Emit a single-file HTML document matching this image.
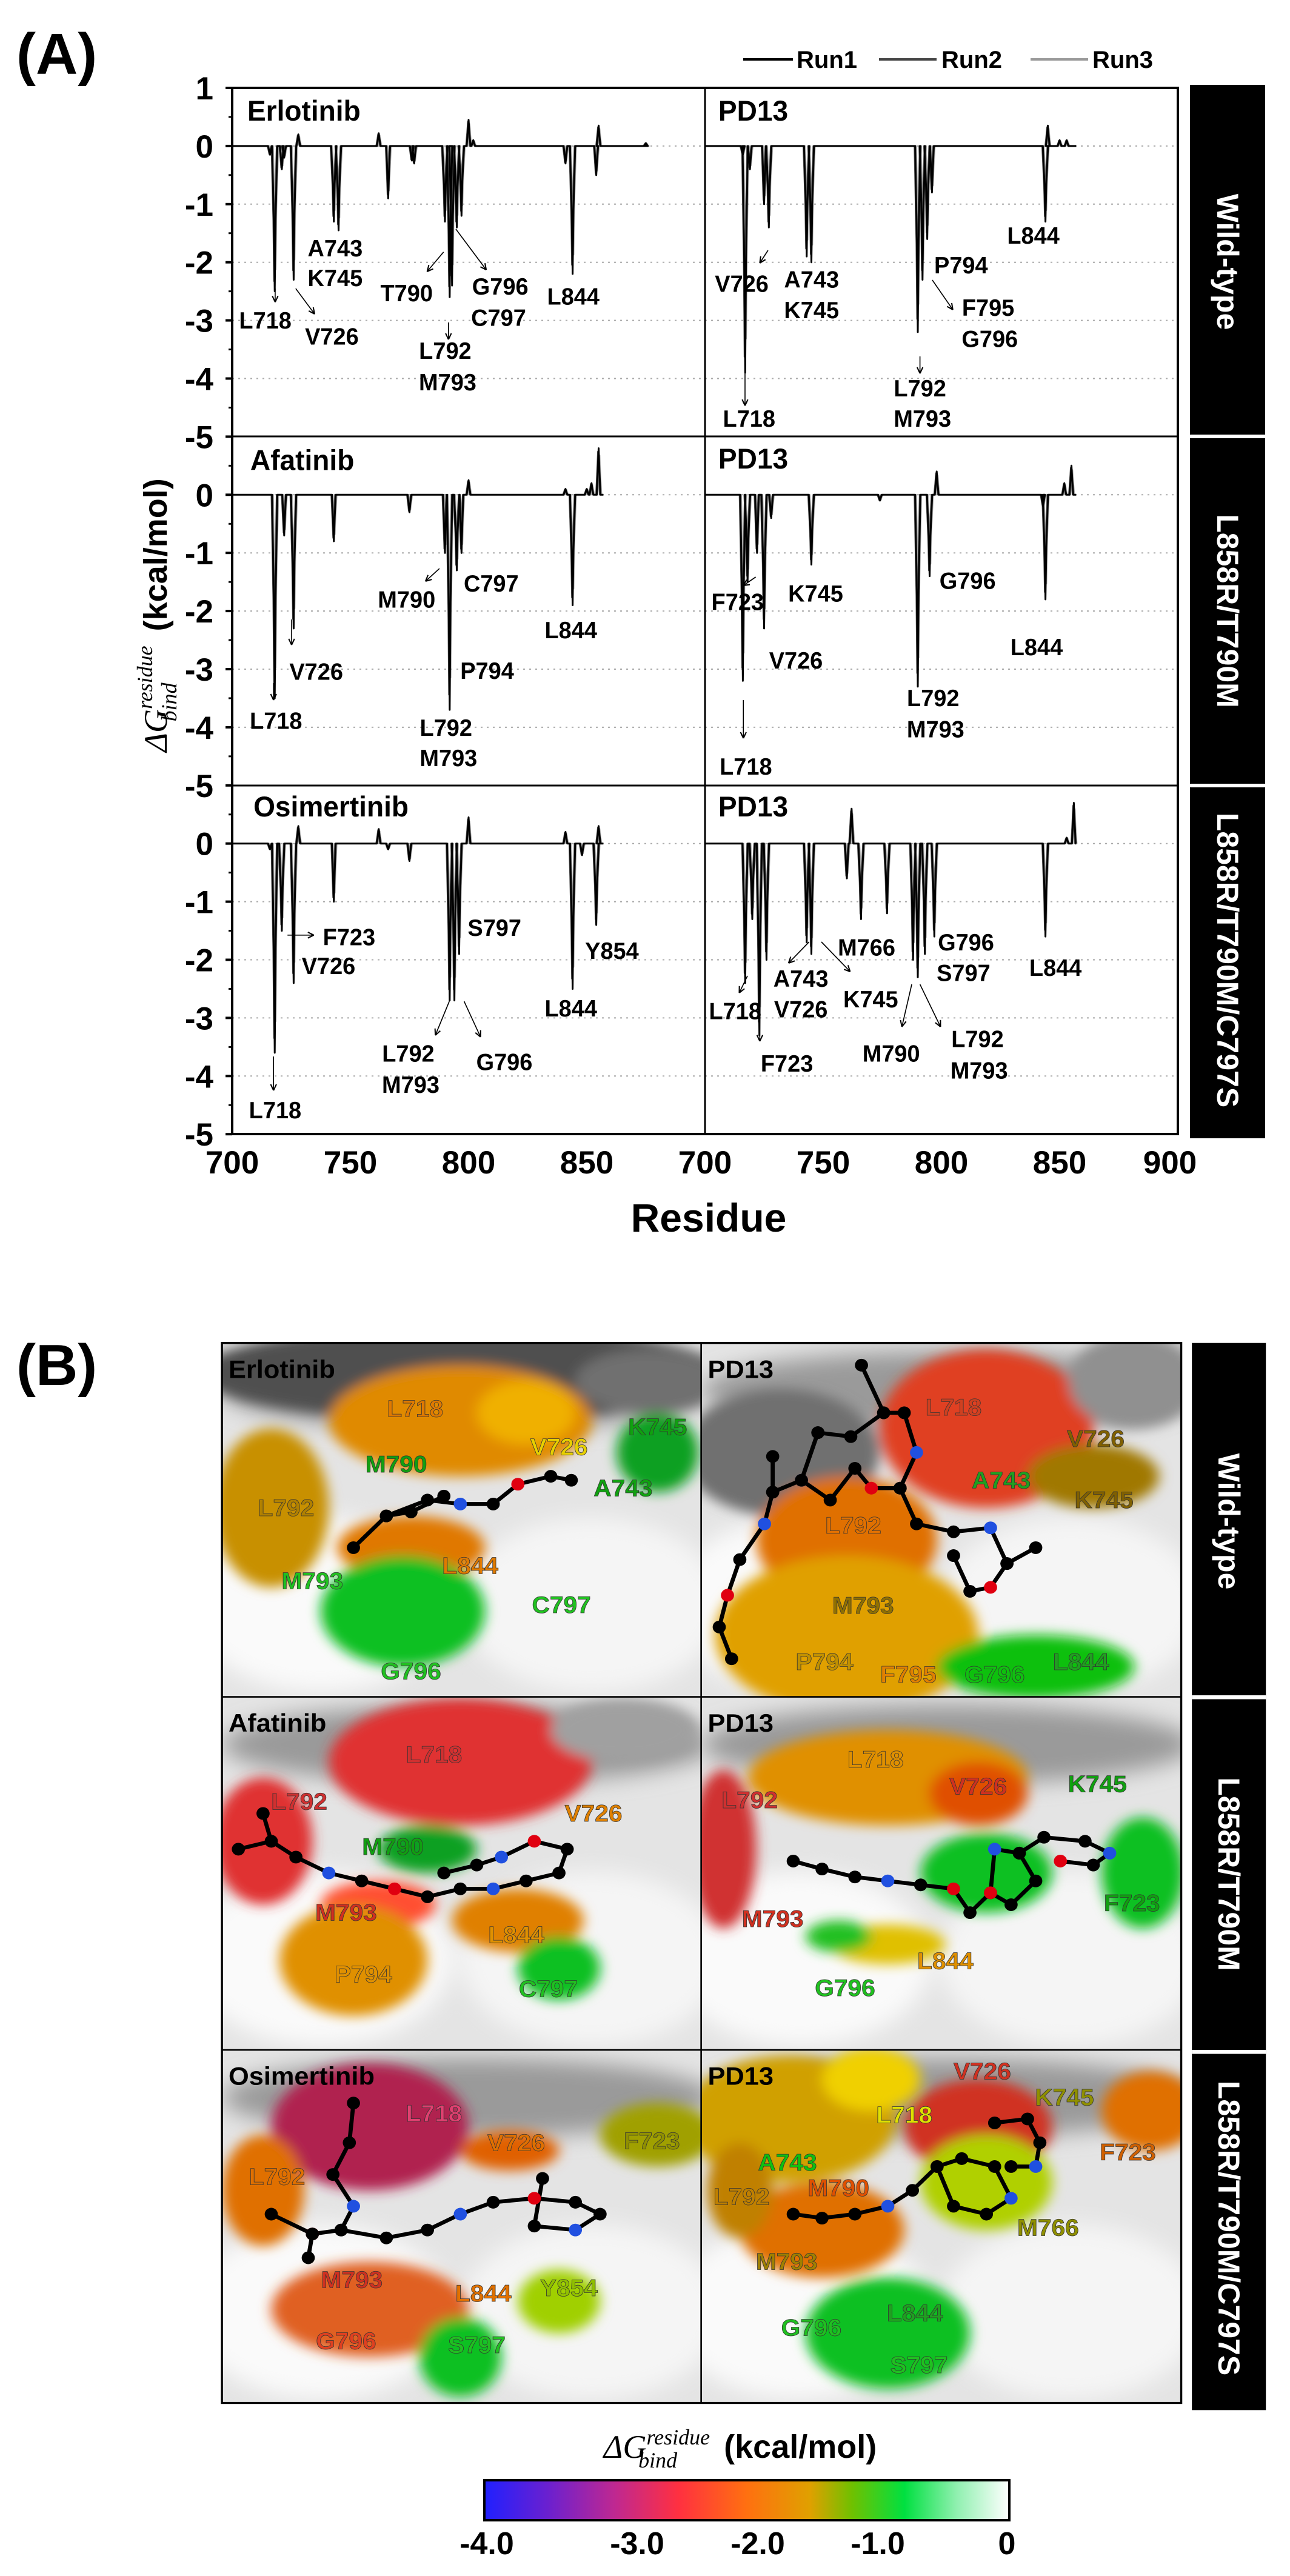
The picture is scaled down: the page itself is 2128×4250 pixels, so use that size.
<!DOCTYPE html>
<html><head><meta charset="utf-8"><style>
html,body{margin:0;padding:0;background:#fff;}
svg{display:block;}
text{font-family:"Liberation Sans",sans-serif;font-weight:bold;}
</style></head><body>
<svg id="s" xmlns="http://www.w3.org/2000/svg" width="2128" height="4250" viewBox="0 0 2128 4250">
<defs>
<filter id="bl" x="-50%" y="-50%" width="200%" height="200%"><feGaussianBlur stdDeviation="14"/></filter>
<filter id="bl2" x="-50%" y="-50%" width="200%" height="200%"><feGaussianBlur stdDeviation="8"/></filter>
<clipPath id="c1"><rect x="270" y="12" width="583" height="446"/></clipPath>
<clipPath id="c2"><rect x="853" y="12" width="584" height="446"/></clipPath>
<clipPath id="c3"><rect x="270" y="458" width="583" height="445"/></clipPath>
<clipPath id="c4"><rect x="853" y="458" width="584" height="445"/></clipPath>
<clipPath id="c5"><rect x="270" y="903" width="583" height="445"/></clipPath>
<clipPath id="c6"><rect x="853" y="903" width="584" height="445"/></clipPath>
<linearGradient id="cb" x1="0" x2="1" y1="0" y2="0">
<stop offset="0" stop-color="#2020ff"/><stop offset="0.12" stop-color="#6a20d0"/><stop offset="0.25" stop-color="#c02890"/><stop offset="0.37" stop-color="#ff3040"/><stop offset="0.5" stop-color="#ff7010"/><stop offset="0.62" stop-color="#e0a000"/><stop offset="0.7" stop-color="#70c000"/><stop offset="0.8" stop-color="#00e040"/><stop offset="0.9" stop-color="#90f0b0"/><stop offset="1" stop-color="#ffffff"/></linearGradient>
</defs>

<!-- ===== (A) ===== -->
<text x="27" y="122" font-size="96">(A)</text>
<g font-size="40">
<line x1="1226" y1="98" x2="1308" y2="98" stroke="#000" stroke-width="4"/><text x="1314" y="112">Run1</text>
<line x1="1450" y1="98" x2="1545" y2="98" stroke="#444" stroke-width="4"/><text x="1553" y="112">Run2</text>
<line x1="1700" y1="98" x2="1795" y2="98" stroke="#999" stroke-width="4"/><text x="1802" y="112">Run3</text>
</g>
<g id="grid"></g>
<g id="curves"></g>
<rect x="383" y="145" width="1560" height="1726" fill="none" stroke="#000" stroke-width="4"/>
<line x1="1163" y1="145" x2="1163" y2="1871" stroke="#000" stroke-width="3"/>
<line x1="383" y1="720" x2="1943" y2="720" stroke="#000" stroke-width="3"/>
<line x1="383" y1="1296" x2="1943" y2="1296" stroke="#000" stroke-width="3"/>
<g id="ticks" font-size="53" text-anchor="end"></g>
<g font-size="53" text-anchor="middle">
<text x="383" y="1936">700</text><text x="578" y="1936">750</text><text x="773" y="1936">800</text><text x="968" y="1936">850</text>
<text x="1163" y="1936">700</text><text x="1358" y="1936">750</text><text x="1553" y="1936">800</text><text x="1748" y="1936">850</text><text x="1930" y="1936">900</text>
</g>
<text x="1169" y="2032" font-size="66" text-anchor="middle">Residue</text>
<g transform="translate(275,1015) rotate(-90)">
<text text-anchor="middle" font-size="54"><tspan font-family="Liberation Serif,serif" font-style="italic" font-weight="normal">ΔG</tspan><tspan font-family="Liberation Serif,serif" font-style="italic" font-weight="normal" font-size="36" dy="-24">residue</tspan><tspan font-family="Liberation Serif,serif" font-style="italic" font-weight="normal" font-size="36" dx="-125" dy="40">bind</tspan><tspan dx="70" dy="-16"> (kcal/mol)</tspan></text>
</g>
<!-- row label bar A -->
<rect x="1963" y="140" width="124" height="1738" fill="#000"/>
<rect x="1963" y="717" width="124" height="6" fill="#fff"/>
<rect x="1963" y="1293" width="124" height="6" fill="#fff"/>
<g fill="#fff" font-size="50" text-anchor="middle">
<text transform="translate(2008,432) rotate(90)">Wild-type</text>
<text transform="translate(2008,1008) rotate(90)">L858R/T790M</text>
<text transform="translate(2008,1584) rotate(90)">L858R/T790M/C797S</text>
</g>

<!-- annotations in zoom1 coords -->
<g transform="scale(1.355,1.4)" font-size="28" text-anchor="middle">
<text x="370" y="142" font-size="34">Erlotinib</text>
<text x="917" y="142" font-size="34">PD13</text>
<text x="368" y="554" font-size="34">Afatinib</text>
<text x="917" y="552" font-size="34">PD13</text>
<text x="403" y="962" font-size="34">Osimertinib</text>
<text x="917" y="962" font-size="34">PD13</text>
<g id="ann"></g>
</g>

<!-- ===== (B) ===== -->
<text x="27" y="2285" font-size="96">(B)</text>
<g transform="translate(0,2200) scale(1.356,1.309)">
<g id="bp"></g>
<rect x="270" y="12" width="1167" height="1336" fill="none" stroke="#000" stroke-width="2.5"/>
<line x1="853" y1="12" x2="853" y2="1348" stroke="#000" stroke-width="2"/>
<line x1="270" y1="458" x2="1437" y2="458" stroke="#000" stroke-width="2"/>
<line x1="270" y1="903" x2="1437" y2="903" stroke="#000" stroke-width="2"/>
<rect x="1450" y="12" width="90" height="1345" fill="#000"/>
<rect x="1450" y="456" width="90" height="5" fill="#fff"/>
<rect x="1450" y="903" width="90" height="5" fill="#fff"/>
</g>
<g fill="#fff" font-size="50" text-anchor="middle">
<text transform="translate(2010,2510) rotate(90)">Wild-type</text>
<text transform="translate(2010,3092) rotate(90)">L858R/T790M</text>
<text transform="translate(2010,3676) rotate(90)">L858R/T790M/C797S</text>
</g>
<!-- colorbar -->
<text x="1221" y="4055" font-size="54" text-anchor="middle"><tspan font-family="Liberation Serif,serif" font-style="italic" font-weight="normal">ΔG</tspan><tspan font-family="Liberation Serif,serif" font-style="italic" font-weight="normal" font-size="36" dy="-22">residue</tspan><tspan font-family="Liberation Serif,serif" font-style="italic" font-weight="normal" font-size="36" dx="-118" dy="38">bind</tspan><tspan dx="62" dy="-16"> (kcal/mol)</tspan></text>
<rect x="799" y="4092" width="866" height="66" fill="url(#cb)" stroke="#000" stroke-width="4"/>
<g font-size="52" text-anchor="middle">
<text x="803" y="4214">-4.0</text><text x="1051" y="4214">-3.0</text><text x="1250" y="4214">-2.0</text><text x="1448" y="4214">-1.0</text><text x="1661" y="4214">0</text>
</g>
</svg>
<script>
var NS="http://www.w3.org/2000/svg";
function el(t,a,p){var e=document.createElementNS(NS,t);for(var k in a)e.setAttribute(k,a[k]);p.appendChild(e);return e;}
var U=95.9, rowTop=[145,720.4,1295.8], X0=[383,1163], PX=3.9;
var grid=document.getElementById('grid'), tk=document.getElementById('ticks');
for(var r=0;r<3;r++){var y0=rowTop[r]+U;
 for(var v=-5;v<=0;v++){var y=y0-v*U; el('line',{x1:383,x2:1943,y1:y,y2:y,stroke:'#aaa','stroke-width':2,'stroke-dasharray':'3 7'},grid);}
 for(var v=(r==0?1:0);v>=-5;v--){var y=y0-v*U;var t=el('text',{x:352,y:y+19},tk);t.textContent=String(v).replace('-','-');
  el('line',{x1:372,x2:383,y1:y,y2:y,stroke:'#000','stroke-width':4},grid);}
 for(var v=0.5;v>-5;v-=1){var y=y0-v*U;el('line',{x1:377,x2:383,y1:y,y2:y,stroke:'#000','stroke-width':3},grid);}
}
var P=[
[[716,-0.15],[718,-2.5],[721,-0.4],[722,-0.2],[726,-2.3],[728,0.2],[743,-1.3],[745,-1.45],[762,0.22],[766,-0.9],[776,-0.25],[777,-0.3],[790,-1.3],[792,-2.6],[793,-2.4],[795,-1.4],[797,-1.2],[800,0.45],[802,0.1],[841,-0.3],[844,-2.2],[854,-0.5],[855,0.35],[875,0.05]],
[[716,-0.15],[717,-3.9],[719,-0.4],[725,-1.0],[727,-1.4],[743,-1.9],[745,-2.0],[790,-3.2],[792,-2.3],[794,-1.6],[796,-0.8],[844,-1.3],[845,0.35],[850,0.1],[853,0.1]],
[[718,-3.5],[722,-0.7],[726,-2.3],[743,-0.8],[775,-0.3],[790,-1.0],[792,-3.7],[795,-1.3],[797,-1.0],[800,0.25],[841,0.1],[844,-1.9],[850,0.1],[852,0.2],[855,0.8]],
[[716,-3.2],[718,-1.5],[722,-1.0],[725,-2.3],[728,-0.4],[745,-1.2],[774,-0.1],[790,-3.3],[795,-1.4],[798,0.4],[843,-0.2],[844,-1.8],[852,0.2],[855,0.5]],
[[716,-0.1],[718,-3.6],[721,-1.5],[726,-2.4],[728,0.3],[743,-1.0],[762,0.25],[766,-0.1],[775,-0.3],[792,-2.7],[794,-2.7],[796,-1.9],[800,0.45],[841,0.2],[844,-2.5],[848,-0.2],[854,-1.4],[855,0.3]],
[[717,-2.4],[720,-1.3],[723,-3.3],[726,-2.0],[743,-1.7],[745,-1.9],[760,-0.6],[762,0.6],[766,-1.3],[777,-1.2],[788,-2.0],[790,-2.3],[793,-1.9],[797,-1.6],[844,-1.6],[853,0.1],[856,0.7]]];
var cg=document.getElementById('curves');
var runs=[['#aaa',2.5,0.85,0.4],['#555',2.5,0.93,-0.3],['#000',3,1,0]];
for(var i=0;i<6;i++){var x0=X0[i%2], y0=rowTop[Math.floor(i/2)]+U;
 runs.forEach(function(R){var d='M'+x0+','+y0, sp=P[i].slice().sort(function(a,b){return a[0]-b[0]});
  sp.forEach(function(s){var r=s[0]+R[3],v=s[1]*R[2];var w=v<-1?1.1:0.8;
   function pt(rr,vv){return ' L'+(x0+(rr-700)*PX).toFixed(1)+','+(y0-vv*U).toFixed(1);}
   d+=pt(r-w,0)+pt(r-0.35,v*0.55)+pt(r,v)+pt(r+0.35,v*0.5)+pt(r+w,0);});
  d+=' L'+(x0+(857-700)*PX)+','+y0;
  el('path',{d:d,fill:'none',stroke:R[0],'stroke-width':R[1],'stroke-linejoin':'round'},cg);});
}
// annotations
var A=[['A743',408,302],['K745',408,337],['T790',495,355],['G796',609,347],['C797',607,384],['L844',698,359],['L718',323,387],['V726',404,406],['L792',542,423],['M793',545,460],
['V726',903,344],['A743',988,339],['K745',988,375],['P794',1170,322],['L844',1258,287],['F795',1203,372],['G796',1205,409],['L718',912,503],['L792',1120,467],['M793',1123,503],
['M790',495,716],['C797',598,697],['L844',695,752],['V726',385,801],['P794',593,800],['L718',336,859],['L792',543,867],['M793',546,903],
['F723',898,719],['K745',993,709],['G796',1178,694],['V726',969,788],['L844',1262,772],['L792',1136,832],['M793',1139,869],['L718',908,913],
['F723',425,1114],['V726',400,1148],['S797',602,1103],['Y854',745,1130],['L844',695,1198],['L792',497,1251],['M793',500,1288],['G796',614,1261],['L718',335,1318],
['M766',1055,1126],['G796',1176,1120],['S797',1173,1156],['L844',1285,1150],['A743',975,1163],['V726',975,1199],['K745',1060,1187],['L718',895,1201],['F723',958,1263],['M790',1085,1251],['L792',1190,1234],['M793',1192,1271]];
var ag=document.getElementById('ann');
A.forEach(function(a){el('text',{x:a[1],y:a[2]},ag).textContent=a[0];});
var AR=[[335,340,335,356],[360,340,383,370],[540,297,520,320],[555,270,592,318],[546,380,546,400],
[935,295,925,310],[907,430,907,478],[1135,330,1160,365],[1120,420,1120,440],
[535,670,518,685],[355,730,355,760],[333,805,333,825],[920,680,905,690],[905,825,905,870],
[350,1102,382,1102],[333,1245,333,1285],[547,1180,530,1220],[565,1180,585,1222],
[985,1110,960,1135],[1000,1110,1035,1145],[910,1150,900,1170],[925,1150,925,1227],[1110,1160,1098,1210],[1120,1160,1145,1210]];
AR.forEach(function(a){el('line',{x1:a[0],y1:a[1],x2:a[2],y2:a[3],stroke:'#000','stroke-width':1.2},ag);
 var ang=Math.atan2(a[3]-a[1],a[2]-a[0]),L=8,s=0.45;
 el('path',{d:'M'+a[2]+','+a[3]+' L'+(a[2]-L*Math.cos(ang-s))+','+(a[3]-L*Math.sin(ang-s))+' M'+a[2]+','+a[3]+' L'+(a[2]-L*Math.cos(ang+s))+','+(a[3]-L*Math.sin(ang+s)),stroke:'#000','stroke-width':1.5,fill:'none'},ag);});
// panel B
var bp=document.getElementById('bp');
var panels=[
{c:'c1',x:270,y:12,title:'Erlotinib',blobs:[['#505050',560,50,320,60],['#e08a00',560,110,160,70],['#f0b000',640,100,60,40],['#c89000',330,220,70,100],['#e07800',500,270,90,40],['#10c020',490,350,100,70],['#10a020',800,150,50,50],['#707070',790,60,90,40]],
 labels:[['L718',505,105,'#e07a00'],['V726',680,153,'#e8d000'],['K745',800,128,'#10a010'],['M790',482,175,'#10a010'],['A743',758,205,'#10a010'],['L792',348,230,'#b08000'],['L844',572,303,'#e07a00'],['M793',380,322,'#20c020'],['C797',683,352,'#20c020'],['G796',500,436,'#20c020']],
 mol:[[[430,270],[470,230],[520,210],[560,215],[600,215],[630,190],[670,180],[695,185]],[[470,230],[500,225],[540,205]]]},
{c:'c2',x:853,y:12,title:'PD13',blobs:[['#707070',950,150,120,80],['#e04020',1200,120,130,100],['#e07000',1030,260,110,80],['#e0a000',1030,380,160,100],['#10c010',1260,420,120,40],['#a07800',1330,180,80,40],['#909090',1380,60,80,60]],
 labels:[['L718',1160,103,'#d04020'],['V726',1333,143,'#806000'],['A743',1218,195,'#20a020'],['K745',1343,220,'#806000'],['L792',1038,252,'#e07000'],['M793',1050,353,'#907000'],['P794',1003,424,'#c09000'],['F795',1105,440,'#e08000'],['G796',1210,440,'#10c010'],['L844',1315,424,'#20a020']],
 mol:[[[1048,40],[1075,100],[1100,100],[1115,150],[1095,195],[1060,195],[1040,170],[1010,210],[975,185],[995,125],[1035,130],[1075,100]],[[995,125],[975,185],[940,200],[930,240],[900,285],[885,330],[875,370],[890,410]],[[1095,195],[1115,240],[1160,250],[1205,245],[1225,290],[1205,320],[1180,325],[1160,280]],[[1225,290],[1260,270]],[[940,155],[940,200]]]},
{c:'c3',x:270,y:458,title:'Afatinib',blobs:[['#e03030',560,540,160,80],['#e03030',320,640,60,80],['#ff5030',460,720,70,30],['#e09000',430,790,90,70],['#e08000',630,740,80,40],['#10c020',680,800,50,40],['#10a020',520,650,60,30],['#a0a0a0',760,500,90,40]],
 labels:[['L718',528,541,'#d03030'],['L792',364,600,'#d03030'],['V726',722,615,'#e08000'],['M790',478,657,'#10a010'],['M793',421,740,'#d03020'],['L844',628,768,'#e09000'],['P794',442,818,'#e09000'],['C797',667,836,'#20c020']],
 mol:[[[290,650],[330,640],[360,660],[400,680],[440,690],[480,700],[520,710],[560,700],[600,700],[640,690],[680,680],[690,650],[650,640],[610,660],[580,670],[540,680]],[[320,605],[330,640]]]},
{c:'c4',x:853,y:458,title:'PD13',blobs:[['#e09000',1080,560,170,60],['#e05000',1190,580,60,40],['#d03030',880,650,40,100],['#10c020',1390,680,50,70],['#10c020',1200,680,80,50],['#e0c000',1080,770,70,25],['#20c020',1020,760,40,20]],
 labels:[['L718',1065,547,'#e09000'],['V726',1190,581,'#d03020'],['K745',1335,578,'#10a010'],['L792',912,598,'#d03030'],['F723',1377,728,'#10a010'],['M793',940,748,'#d03020'],['L844',1150,801,'#e09000'],['G796',1028,835,'#20c020']],
 mol:[[[965,665],[1000,675],[1040,685],[1080,690],[1120,695],[1160,700],[1180,730],[1205,705],[1210,650],[1240,655],[1260,690],[1230,720],[1205,705]],[[1240,655],[1270,635],[1320,640],[1350,655],[1330,670],[1290,665]]]},
{c:'c5',x:270,y:903,title:'Osimertinib',blobs:[['#b02050',450,1000,120,80],['#e07000',320,1080,50,70],['#a0a000',800,1010,70,40],['#e06020',450,1230,120,60],['#e06000',620,1030,60,25],['#10c020',560,1290,50,50],['#a0d000',680,1220,50,40]],
 labels:[['L718',528,993,'#e04070'],['V726',628,1030,'#e07000'],['F723',793,1028,'#909000'],['L792',337,1073,'#e07000'],['M793',428,1203,'#d03020'],['L844',588,1220,'#e07000'],['Y854',692,1213,'#90c000'],['G796',421,1280,'#e04020'],['S797',580,1285,'#20c020']],
 mol:[[[430,970],[425,1020],[405,1060],[430,1100],[415,1130],[380,1135],[330,1110]],[[415,1130],[470,1140],[520,1130],[560,1110],[600,1095],[650,1090],[700,1095],[730,1110],[700,1130],[650,1125],[660,1065]],[[380,1135],[375,1165]]]},
{c:'c6',x:853,y:903,title:'PD13',blobs:[['#d0a000',960,990,130,80],['#f0d000',1060,940,60,40],['#d03020',1190,1000,90,60],['#e07000',1400,980,60,50],['#b0d000',1200,1070,80,60],['#e07000',1000,1130,100,60],['#10c020',1080,1260,100,70],['#c08000',900,1080,40,60]],
 labels:[['V726',1195,940,'#d03020'],['K745',1295,973,'#909000'],['L718',1100,995,'#e0e000'],['F723',1372,1042,'#d06000'],['A743',958,1055,'#10c010'],['L792',902,1098,'#c08000'],['M790',1020,1087,'#e05000'],['M766',1275,1137,'#909000'],['M793',957,1180,'#a08000'],['L844',1113,1245,'#20a020'],['G796',987,1263,'#20c020'],['S797',1118,1310,'#20c020']],
 mol:[[[965,1110],[1000,1115],[1040,1110],[1080,1100],[1110,1080],[1140,1050],[1170,1040],[1210,1050],[1230,1090],[1200,1110],[1160,1100],[1140,1050]],[[1210,995],[1250,990],[1265,1020],[1260,1050],[1230,1050]]]}];
panels.forEach(function(p){
 var g=el('g',{'clip-path':'url(#'+p.c+')'},bp);
 el('rect',{x:p.x,y:p.y,width:584,height:446,fill:'#e4e4e4'},g);
 var f=el('g',{filter:'url(#bl)'},g);
 el('ellipse',{cx:p.x+120,cy:p.y+330,rx:160,ry:110,fill:'#fafafa'},f);
 el('ellipse',{cx:p.x+450,cy:p.y+330,rx:160,ry:110,fill:'#f5f5f5'},f);
 el('ellipse',{cx:p.x+300,cy:p.y+60,rx:300,ry:50,fill:'#9a9a9a'},f);
 var f2=el('g',{filter:'url(#bl2)'},g);
 p.blobs.forEach(function(b){el('ellipse',{cx:b[1],cy:b[2],rx:b[3],ry:b[4],fill:b[0]},f2);});
 p.mol.forEach(function(m){var d='M'+m.map(function(q){return q.join(',')}).join(' L');
  el('path',{d:d,fill:'none',stroke:'#000','stroke-width':5,'stroke-linejoin':'round'},g);
  m.forEach(function(q,k){el('circle',{cx:q[0],cy:q[1],r:8,fill:(k%5==3?'#2050e0':(k%7==5?'#e00010':'#000'))},g);});});
 p.labels.forEach(function(l){el('text',{x:l[1],y:l[2],fill:l[3],stroke:'#333','stroke-width':0.6,'font-size':30,'text-anchor':'middle'},g).textContent=l[0];});
 el('text',{x:p.x+8,y:p.y+44,'font-size':32},g).textContent=p.title;
});
</script>
</body></html>
